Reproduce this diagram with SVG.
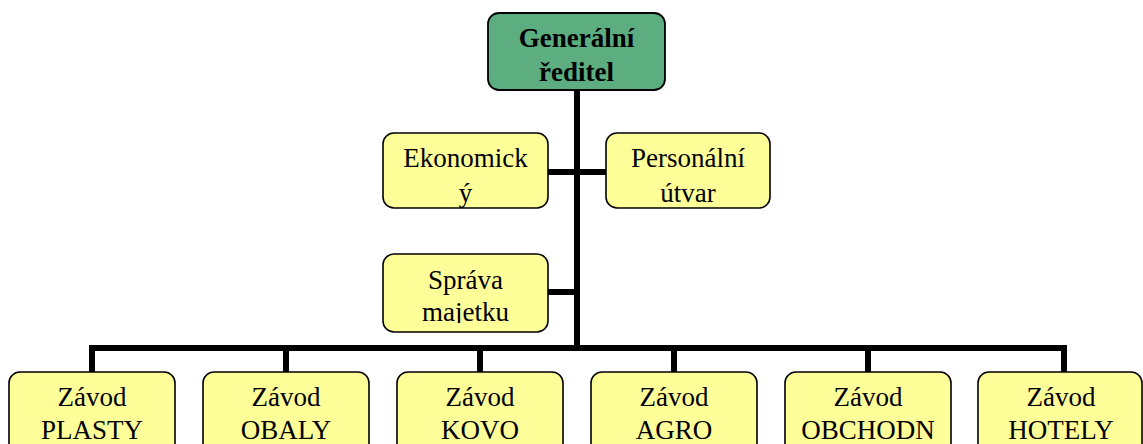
<svg xmlns="http://www.w3.org/2000/svg" width="1143" height="444" viewBox="0 0 1143 444">
<style>
.box{fill:#ffff99;stroke:#000;stroke-width:1.6}
.top{fill:#5cae80;stroke:#000;stroke-width:1.8}
.t{font-family:"Liberation Serif",serif;font-size:27px;fill:#000;text-anchor:middle}
.b{font-weight:bold}
.c{stroke:#000;stroke-width:6;fill:none}
</style>
<defs>
<clipPath id="clipS"><rect x="383" y="254" width="165" height="69"/></clipPath>
</defs>
<g id="connectors">
<line class="c" x1="577" y1="90" x2="577" y2="348"/>
<line class="c" x1="548" y1="172" x2="606" y2="172"/>
<line class="c" x1="548" y1="292" x2="577" y2="292"/>
<polyline class="c" points="92,372 92,348 1064,348 1064,372"/>
<line class="c" x1="286" y1="348" x2="286" y2="372"/>
<line class="c" x1="480" y1="348" x2="480" y2="372"/>
<line class="c" x1="674" y1="348" x2="674" y2="372"/>
<line class="c" x1="868" y1="348" x2="868" y2="372"/>
</g>
<g id="gr">
<rect class="top" x="488" y="13" width="177" height="77" rx="11"/>
<text class="t b" x="576.5" y="47">Generální</text>
<text class="t b" x="576.5" y="81">ředitel</text>
</g>
<g id="ekon">
<rect class="box" x="383" y="133" width="165" height="75" rx="11"/>
<text class="t" x="465.5" y="167">Ekonomick</text>
<text class="t" x="465.5" y="202">ý</text>
</g>
<g id="pers">
<rect class="box" x="606" y="133" width="164" height="75" rx="11"/>
<text class="t" x="688" y="167">Personální</text>
<text class="t" x="688" y="202">útvar</text>
</g>
<g id="sprava">
<rect class="box" x="383" y="254" width="165" height="78" rx="11"/>
<g clip-path="url(#clipS)">
<text class="t" x="465.5" y="289">Správa</text>
<text class="t" x="465.5" y="321">majetku</text>
</g>
</g>
<g id="plasty">
<rect class="box" x="9" y="372" width="166" height="90" rx="11"/>
<text class="t" x="92" y="406">Závod</text>
<text class="t" x="92" y="439">PLASTY</text>
</g>
<g id="obaly">
<rect class="box" x="203" y="372" width="166" height="90" rx="11"/>
<text class="t" x="286" y="406">Závod</text>
<text class="t" x="286" y="439">OBALY</text>
</g>
<g id="kovo">
<rect class="box" x="397" y="372" width="166" height="90" rx="11"/>
<text class="t" x="480" y="406">Závod</text>
<text class="t" x="480" y="439">KOVO</text>
</g>
<g id="agro">
<rect class="box" x="591" y="372" width="166" height="90" rx="11"/>
<text class="t" x="674" y="406">Závod</text>
<text class="t" x="674" y="439">AGRO</text>
</g>
<g id="obchodn">
<rect class="box" x="785" y="372" width="166" height="90" rx="11"/>
<text class="t" x="868" y="406">Závod</text>
<text class="t" x="868" y="439">OBCHODN</text>
</g>
<g id="hotely">
<rect class="box" x="978" y="372" width="164" height="90" rx="11"/>
<text class="t" x="1061" y="406">Závod</text>
<text class="t" x="1061" y="439">HOTELY</text>
</g>
</svg>
